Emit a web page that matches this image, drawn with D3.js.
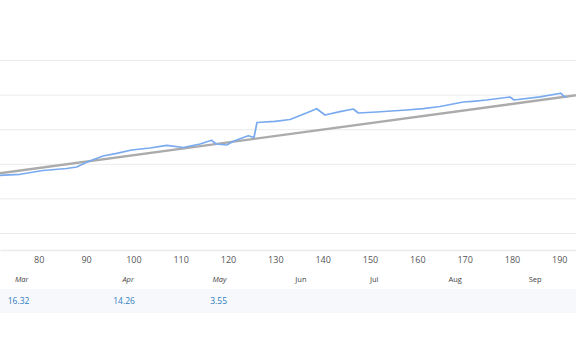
<!DOCTYPE html>
<html>
<head>
<meta charset="utf-8">
<script src="https://cdn.jsdelivr.net/npm/d3@7"></script>
<style>
  html, body { margin: 0; padding: 0; background: #fff; }
  svg { display: block; font-family: "Open Sans", "Segoe UI", sans-serif; }
</style>
</head>
<body>
<svg id="chart" width="576" height="356"></svg>
<script>
// ---- data ----
const days = [71.82, 76.05, 80.91, 85.92, 88.03, 90.14, 91.9, 93.59, 96.48, 99.65, 103.52, 107.04, 110.55, 114.08, 116.55, 117.46, 119.72, 121.12, 124.28, 125.49, 126.12, 129.92, 133.1, 135.91, 138.74, 140.49, 143.66, 146.47, 147.53, 151.41, 157.75, 161.26, 164.79, 169.71, 171.7, 174.66, 179.58, 180.43, 185.92, 190.29, 190.99, 191.62];
const values = [16.68, 16.97, 18.06, 18.64, 19.08, 20.43, 21.39, 22.25, 23.03, 23.99, 24.57, 25.35, 24.71, 25.72, 26.79, 25.72, 25.43, 26.5, 28.12, 27.6, 31.94, 32.28, 32.8, 34.31, 35.92, 34.1, 35.06, 35.84, 34.68, 34.97, 35.55, 35.92, 36.56, 37.86, 38.06, 38.44, 39.31, 38.44, 39.36, 40.4, 39.51, 39.31];
const trendDays = [71.82, 193.53];
const trendValues = [17.25, 39.8];
const xTicks = [80, 90, 100, 110, 120, 130, 140, 150, 160, 170, 180, 190];
const yTicks = [0, 10, 20, 30, 40, 50];
const months = ["Mar", "Apr", "May", "Jun", "Jul", "Aug", "Sep"];
const monthDays = [76.4, 98.9, 118.2, 135.4, 150.9, 168.0, 184.9];
const monthValues = ["16.32", "14.26", "3.55"];

// ---- layout ----
const W = 576, H = 356;
const plotBottom = 250;
const svg = d3.select("#chart");

const x = d3.scaleLinear().domain([71.82, 193.53]).range([0, W]);
const y = d3.scaleLinear().domain([0, 50]).range([233, 60]);

// gridlines
const grid = svg.append("g").attr("class", "grid")
  .call(d3.axisLeft(y).tickValues(yTicks).tickSize(-W).tickFormat(""));
grid.select(".domain").remove();
grid.selectAll(".tick line").attr("stroke", "#ebebeb").attr("stroke-width", 1);

// x axis
const xa = svg.append("g").attr("transform", `translate(0,${plotBottom})`)
  .call(d3.axisBottom(x).tickValues(xTicks).tickSize(0).tickPadding(7).tickFormat(d3.format("d")));
xa.select(".domain").attr("stroke", "#ebebeb").attr("stroke-width", 1.5);
xa.selectAll("text").attr("fill", "#555").style("font-size", "9px")
  .style("font-family", "'Open Sans', sans-serif");

// trend line
const line = d3.line().x(d => x(d[0])).y(d => y(d[1]));
svg.append("path")
  .datum(trendDays.map((d, i) => [d, trendValues[i]]))
  .attr("d", line).attr("fill", "none")
  .attr("stroke", "#ababab").attr("stroke-width", 2.4);

// series line
svg.append("path")
  .datum(days.map((d, i) => [d, values[i]]))
  .attr("d", line).attr("fill", "none")
  .attr("stroke", "#79aaf0").attr("stroke-width", 1.7)
  .attr("stroke-linejoin", "round");

// value band
svg.append("rect").attr("x", 0).attr("y", 289).attr("width", W).attr("height", 24)
  .attr("fill", "#f7f8fc");

// month labels
const mLabels = svg.append("g").selectAll("text").data(months).join("text")
  .attr("x", (d, i) => x(monthDays[i]))
  .attr("y", 282)
  .attr("text-anchor", "middle")
  .attr("fill", "#444")
  .style("font-size", "7.5px")
  .style("font-style", (d, i) => i < monthValues.length ? "italic" : "normal")
  .text(d => d);

// values, right-aligned to month labels
const rights = [];
mLabels.each(function() { const b = this.getBBox(); rights.push(b.x + b.width); });
svg.append("g").selectAll("text").data(monthValues).join("text")
  .attr("x", (d, i) => rights[i])
  .attr("y", 304)
  .attr("text-anchor", "end")
  .attr("fill", "#2f7dbf")
  .style("font-size", "8.5px")
  .text(d => d);
</script>
</body>
</html>
